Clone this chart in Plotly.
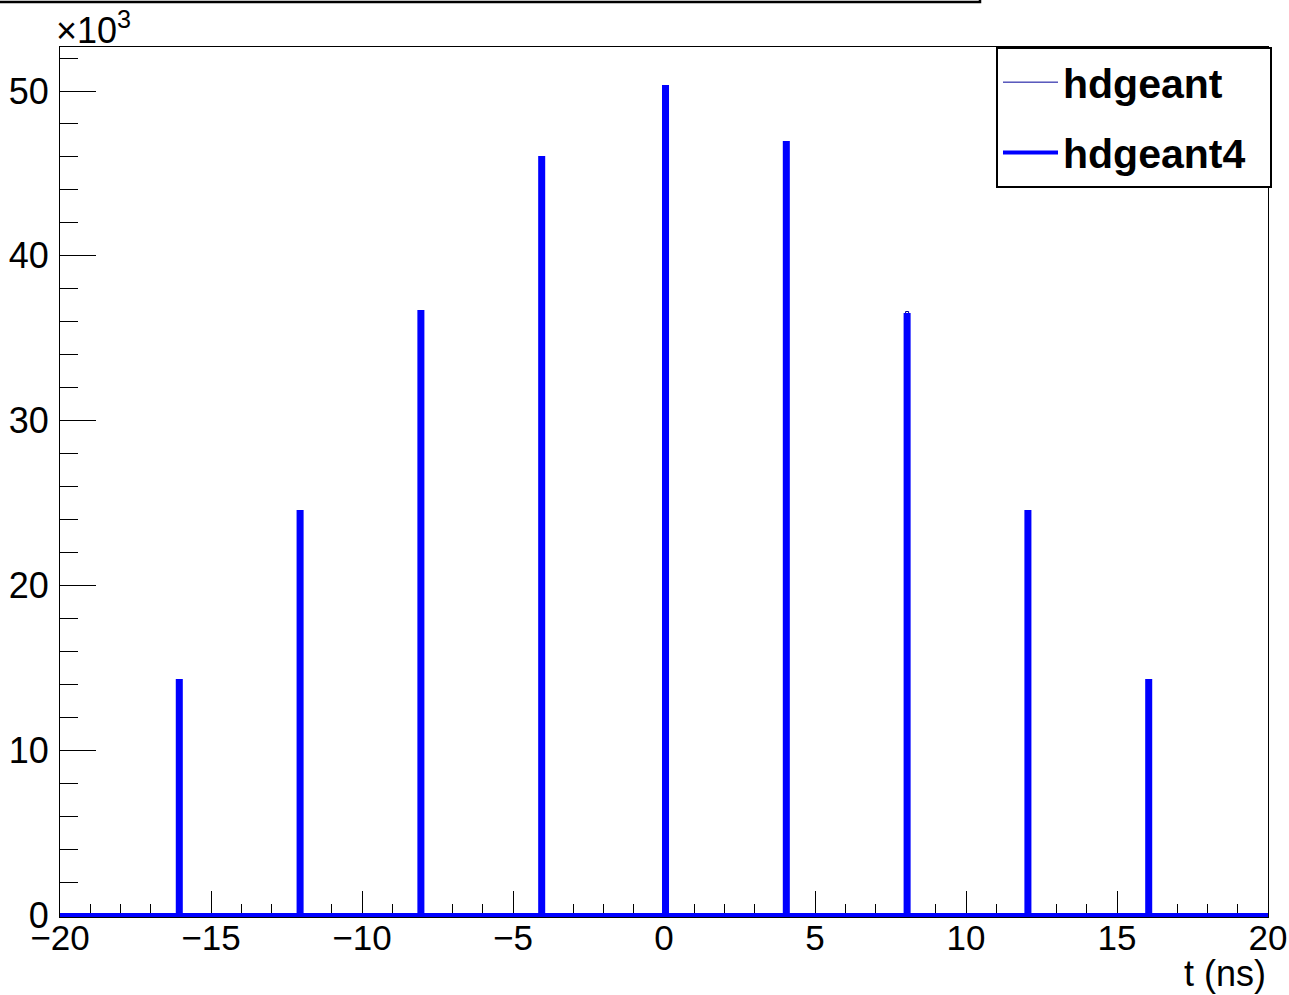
import numpy as np
import plotly.graph_objects as go

# histogram: 400 bins of 0.1 ns from -20 to 20, only the RF-bucket bins are filled
x_min, x_max = -20.0, 20.0
bin_width = 0.1
peak_centers = [-16.05, -12.05, -8.05, -4.05, 0.05, 4.05, 8.05, 12.05, 16.05]
hdgeant = [14200, 24460, 36590, 45940, 50240, 46850, 36620, 24460, 14200]
hdgeant4 = [14200, 24460, 36590, 45940, 50240, 46850, 36410, 24460, 14200]

y_ticks = [0, 10000, 20000, 30000, 40000, 50000]
y_ticktext = ["0", "10", "20", "30", "40", "50"]

W, H = 1289, 995
L, R, T, B = 60, 21, 47, 78
FONT = "Liberation Sans"


def step_xy(centers, counts):
    # outline of a histogram drawn like ROOT's "hist" option
    xs, ys = [x_min], [0]
    for c, v in zip(centers, counts):
        lo, hi = c - bin_width / 2, c + bin_width / 2
        xs += [lo, lo, hi, hi]
        ys += [0, v, v, 0]
    xs.append(x_max)
    ys.append(0)
    return np.array(xs), np.array(ys)


fig = go.Figure()
x1, y1 = step_xy(peak_centers, hdgeant)
fig.add_trace(go.Scatter(x=x1, y=y1, mode="lines", name="hdgeant",
                         line=dict(color="#000099", width=1), legendgroup="a"))
x2, y2 = step_xy(peak_centers, hdgeant4)
# trailing spaces widen the legend box like the ROOT TLegend
fig.add_trace(go.Scatter(x=x2, y=y2, mode="lines", name="hdgeant4\u00a0\u2009",
                         line=dict(color="#0000ff", width=4), legendgroup="b"))

px2x = lambda p: (p - L) / (W - L - R)
py2y = lambda p: (H - B - p) / (H - T - B)

fig.update_layout(
    width=W, height=H,
    margin=dict(l=L, r=R, t=T, b=B, pad=0, autoexpand=False),
    paper_bgcolor="white", plot_bgcolor="white",
    font=dict(family=FONT, size=36, color="black"),
    showlegend=True,
    legend=dict(x=px2x(996), y=1, xanchor="left", yanchor="top",
                bordercolor="black", borderwidth=2, bgcolor="white",
                font=dict(family=FONT, size=41, weight="bold"),
                tracegroupgap=14, itemwidth=55),
)

fig.update_xaxes(
    range=[x_min, x_max], dtick=5, tick0=0, automargin=False,
    ticks="inside", ticklen=26, tickwidth=1, tickcolor="black",
    minor=dict(dtick=1, ticks="inside", ticklen=13, tickwidth=1, tickcolor="black"),
    showgrid=False, zeroline=False,
    showline=True, linecolor="black", linewidth=1, mirror=True,
    layer="below traces", tickfont=dict(size=35), ticklabelstandoff=-10,
)
fig.update_yaxes(
    range=[-120, 52670], tickvals=y_ticks, ticktext=y_ticktext, automargin=False,
    ticks="inside", ticklen=36, tickwidth=1, tickcolor="black",
    minor=dict(dtick=2000, tick0=0, ticks="inside", ticklen=18, tickwidth=1, tickcolor="black"),
    showgrid=False, zeroline=False,
    showline=True, linecolor="black", linewidth=1, mirror=True,
    layer="below traces", tickfont=dict(size=36), ticklabelstandoff=3,
)

# exponent label and axis title, ROOT style
fig.add_annotation(x=px2x(54), y=py2y(53), xref="paper", yref="paper",
                   xanchor="left", yanchor="bottom", showarrow=False,
                   text="×10<sup>3</sup>", font=dict(size=36))
fig.add_annotation(x=1, y=py2y(996), xref="paper", yref="paper",
                   xanchor="right", yanchor="bottom", showarrow=False,
                   text="t (ns)", font=dict(size=36))

# clipped title box at the top of the canvas
fig.add_shape(type="rect", xref="paper", yref="paper",
              x0=px2x(-5), x1=px2x(980), y0=py2y(2), y1=py2y(-20),
              line=dict(color="black", width=2.5), fillcolor="white")

# drop the default page margin so the canvas sits at the window corner
fig.write_html("out.html", config={"displayModeBar": False},
               post_script="document.body.style.margin='0';")
